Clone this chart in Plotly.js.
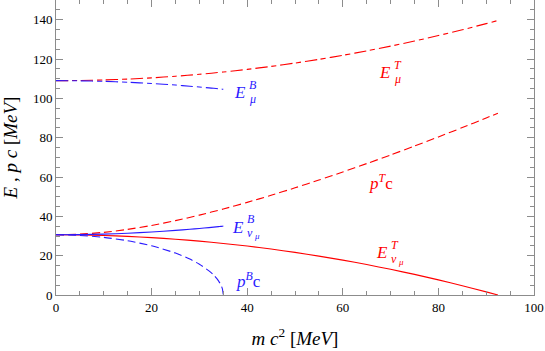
<!DOCTYPE html>
<html><head><meta charset="utf-8">
<script src="https://cdn.plot.ly/plotly-3.0.1.min.js"></script>
<style>html,body{margin:0;padding:0;background:#fff}#c{width:545px;height:351px}</style>
</head><body><div id="c"></div>
<script>
// neutrino mass m c^2 [MeV] sampled for the "T" curves
const mT = [0,5,10,15,20,25,30,35,40,45,50,55,60,65,70,75,80,85,90,92.45];
const EmuT = [108.99,109.08,109.35,109.79,110.42,111.23,112.21,113.38,114.72,116.24,117.94,119.82,121.88,124.12,126.54,129.13,131.91,134.87,138.0,139.6];
const pT   = [30.61,30.93,31.86,33.37,35.38,37.81,40.62,43.73,47.11,50.70,54.49,58.45,62.56,66.82,71.21,75.73,80.37,85.13,90.01,92.45];
const EnuT = [30.61,30.52,30.25,29.81,29.18,28.37,27.39,26.22,24.88,23.36,21.66,19.78,17.72,15.48,13.06,10.47,7.69,4.73,1.60,0];
// "B" curves
const mB = [0,5,10,15,20,25,28,30,32,33,34,34.5,34.8,35];
const EmuB = [108.99,108.90,108.63,108.18,107.56,106.75,106.18,105.77,105.32,105.09,104.85,104.72,104.65,104.6];
const EnuB = [30.61,30.70,30.97,31.42,32.04,32.85,33.42,33.83,34.28,34.51,34.75,34.88,34.95,35.0];
const pB   = [30.61,30.29,29.31,27.61,25.03,21.31,18.25,15.64,12.29,10.11,7.20,5.10,3.24,0];

const RED = '#ff0000', BLUE = '#2a1aff';
const dashDash = '12px,4px,5px,4px';
const dashed = '8px,4px';
function tr(x, y, color, dash) {
  return {x: x, y: y, type: 'scatter', mode: 'lines', hoverinfo: 'skip',
          line: {color: color, width: 1.1, dash: dash, shape: 'spline', smoothing: 0.6}};
}
const data = [
  tr(mT, EmuT, RED, dashDash),
  tr(mT, pT, RED, dashed),
  tr(mT, EnuT, RED, 'solid'),
  tr(mB, EmuB, BLUE, dashDash),
  tr(mB, EnuB, BLUE, 'solid'),
  tr(mB, pB, BLUE, dashed)
];
const SERIF = 'Liberation Serif';
const ann = [];
function lbl(x, y, color, main, sup, sub, subsub) {
  ann.push({x: x, y: y, xref: 'x', yref: 'y', text: '<i>' + main + '</i>', showarrow: false,
            xanchor: 'right', yanchor: 'middle', font: {family: SERIF, size: 17, color: color}});
  ann.push({x: x, y: y, xref: 'x', yref: 'y', text: '<i>' + sup + '</i>', showarrow: false,
            xanchor: 'left', yanchor: 'middle', xshift: -1, yshift: 8, font: {family: SERIF, size: 12, color: color}});
  ann.push({x: x, y: y, xref: 'x', yref: 'y', text: '<i>' + sub + '</i>', showarrow: false,
            xanchor: 'left', yanchor: 'middle', xshift: -1, yshift: -6, font: {family: SERIF, size: 12, color: color}});
  if (subsub) {
    ann.push({x: x, y: y, xref: 'x', yref: 'y', text: '<i>' + subsub + '</i>', showarrow: false,
              xanchor: 'left', yanchor: 'middle', xshift: 6, yshift: -9, font: {family: SERIF, size: 9, color: color}});
  }
}
lbl(70.5, 112.9, RED, 'E', 'T', 'μ');
lbl(40.2, 102.8, BLUE, 'E', 'B', 'μ');
lbl(39.7, 34.5, BLUE, 'E', 'B', 'ν', 'μ');
lbl(69.9, 21.5, RED, 'E', 'T', 'ν', 'μ');
ann.push({x: 68, y: 57.5, xref: 'x', yref: 'y', showarrow: false, xanchor: 'center', yanchor: 'middle',
          text: '<i>p</i><sup><i>T</i></sup>c', font: {family: SERIF, size: 17, color: RED}});
ann.push({x: 40.2, y: 7.8, xref: 'x', yref: 'y', showarrow: false, xanchor: 'center', yanchor: 'middle',
          text: '<i>p</i><sup><i>B</i></sup>c', font: {family: SERIF, size: 17, color: BLUE}});

const GRAY = '#8c8c8c';
const axisCommon = {
  showgrid: false, zeroline: false, showline: true, linecolor: GRAY, linewidth: 1, mirror: 'ticks',
  ticks: 'inside', ticklen: 7, tickcolor: GRAY, tickwidth: 1,
  tickfont: {family: SERIF, size: 13, color: '#000'},
  minor: {dtick: 5, ticks: 'inside', ticklen: 4, tickcolor: GRAY, tickwidth: 1, showgrid: false}
};
const layout = {
  width: 545, height: 351, margin: {l: 56, r: 11, t: 0, b: 56},
  paper_bgcolor: '#fff', plot_bgcolor: '#fff', showlegend: false,
  xaxis: Object.assign({}, axisCommon, {range: [0, 100], dtick: 20, tick0: 0,
    title: {text: '<i>m c</i><sup>2</sup> [<i>MeV</i>]', font: {family: SERIF, size: 19, color: '#000'}, standoff: 18}}),
  yaxis: Object.assign({}, axisCommon, {range: [0, 150], dtick: 20, tick0: 0,
    title: {text: '<i>E</i> , <i>p c</i> [<i>MeV</i>]', font: {family: SERIF, size: 19, color: '#000'}, standoff: 10}}),
  annotations: ann
};
Plotly.newPlot('c', data, layout, {staticPlot: true, displayModeBar: false});
</script></body></html>
